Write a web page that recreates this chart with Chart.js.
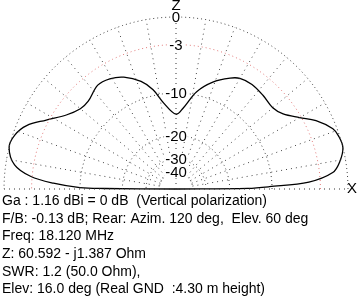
<!DOCTYPE html>
<html>
<head>
<meta charset="utf-8">
<script src="https://cdn.jsdelivr.net/npm/chart.js@4"></script>
<style>
  body { margin: 0; background: #fff; }
  #wrap { width: 360px; height: 296px; }
</style>
</head>
<body>
<div id="wrap"><canvas id="patternChart" width="360" height="296"></canvas></div>
<script>
// ======================== Pattern data ========================
const elevDeg = [0, 0.5, 1.4, 3, 6, 9.5, 14, 18, 21, 26, 30, 35, 40, 47, 54, 60, 64, 71, 78, 85, 90,
                 98, 103, 108, 115, 121, 127, 135, 140, 146, 152, 157, 161.5, 166, 171.5, 175, 177.3, 179.2, 179.6, 180];
const gainDb  = [-99, -15, -10.5, -4.4, -1.5, -0.6, 0, -0.1, -0.4, -1.7, -3.2, -4.7, -5.3, -5.1, -4.9, -5.1, -5.7, -7.2, -9.4, -12.9, -14.3,
                 -11.8, -9.0, -7.2, -5.7, -5.0, -4.8, -5.6, -5.5, -4.5, -2.7, -1.0, -0.2, 0, -0.9, -2.8, -5.8, -10, -15, -99];

const ringDb = [0, -3, -10, -20, -30, -40];
const ringLabels = ['0', '-3', '-10', '-20', '-30', '-40'];
const spokeDeg = [10, 20, 30, 40, 50, 60, 70, 80, 100, 110, 120, 130, 140, 150, 160, 170];

const infoLines = [
    'Ga : 1.16 dBi = 0 dB  (Vertical polarization)',
    'F/B: -0.13 dB; Rear: Azim. 120 deg,  Elev. 60 deg',
    'Freq: 18.120 MHz',
    'Z: 60.592 - j1.387 Ohm',
    'SWR: 1.2 (50.0 Ohm),',
    'Elev: 16.0 deg (Real GND  :4.30 m height)'
];

// ARRL style log scale, 0 dB = 1
function radius(db) {
    if (db <= -99) return 0;
    return Math.pow(0.89, -db / 2);
}
function polar(deg, r) {
    let a = deg * Math.PI / 180;
    return { x: r * Math.cos(a), y: r * Math.sin(a) };
}

// ======================== Datasets ========================
let patternPts = elevDeg.map((a, i) => polar(a, radius(gainDb[i])));

let datasets = [];

ringDb.forEach(db => {
    let pts = [];
    for (let a = 0; a <= 180; a += 2) pts.push(polar(a, radius(db)));
    datasets.push({
        data: pts, showLine: true, pointRadius: 0, borderWidth: 1,
        borderColor: db === -3 ? '#e27a7a' : '#444',
        borderDash: [1, 3], tension: 0
    });
});

spokeDeg.forEach(a => {
    datasets.push({
        data: [polar(a, radius(-40)), polar(a, 1)], showLine: true, pointRadius: 0,
        borderWidth: 1, borderColor: '#444', borderDash: [1, 4]
    });
});

// base line and zenith axis
datasets.push({ data: [{ x: -1, y: 0 }, { x: 1, y: 0 }], showLine: true, pointRadius: 0,
    borderWidth: 1, borderColor: '#333', borderDash: [1, 4] });
datasets.push({ data: [{ x: 0, y: 0 }, { x: 0, y: 1 }], showLine: true, pointRadius: 0,
    borderWidth: 1, borderColor: '#333', borderDash: [1, 4] });

datasets.push({
    data: patternPts, showLine: true, pointRadius: 0, borderWidth: 1.3,
    borderColor: '#000', tension: 0.35
});

// ======================== Labels plugin ========================
const R = 172, CX = 176, CY = 189;

const labelPlugin = {
    id: 'labels',
    afterDatasetsDraw(chart) {
        let ctx = chart.ctx;
        let xs = chart.scales.x, ys = chart.scales.y;
        ctx.save();
        ctx.font = '15px "Liberation Sans", Arial, sans-serif';
        ctx.textAlign = 'center';
        ctx.textBaseline = 'middle';
        ringDb.forEach((db, i) => {
            let px = xs.getPixelForValue(0);
            let py = ys.getPixelForValue(radius(db));
            let w = ctx.measureText(ringLabels[i]).width;
            ctx.fillStyle = '#fff';
            ctx.fillRect(px - w / 2 - 1, py - 6, w + 2, 12);
            ctx.fillStyle = '#000';
            ctx.fillText(ringLabels[i], px, py + 1);
        });
        ctx.fillText('Z', xs.getPixelForValue(0), ys.getPixelForValue(1) - 11);
        ctx.fillText('X', xs.getPixelForValue(1) + 4, ys.getPixelForValue(0));

        ctx.font = '14px "Liberation Sans", Arial, sans-serif';
        ctx.textAlign = 'left';
        infoLines.forEach((line, i) => {
            ctx.fillText(line, 2, 201 + i * 17.7);
        });
        ctx.restore();
    }
};

// ======================== Chart ========================
let ctx = document.getElementById('patternChart').getContext('2d');

let patternChart = new Chart(ctx, {
    type: 'scatter',
    data: { datasets: datasets },
    options: {
        responsive: false,
        animation: false,
        layout: { padding: 0 },
        plugins: { legend: { display: false }, tooltip: { enabled: false } },
        scales: {
            x: { type: 'linear', display: false, min: -CX / R, max: (360 - CX) / R },
            y: { type: 'linear', display: false, min: (CY - 296) / R, max: CY / R }
        }
    },
    plugins: [labelPlugin]
});
</script>
</body>
</html>
